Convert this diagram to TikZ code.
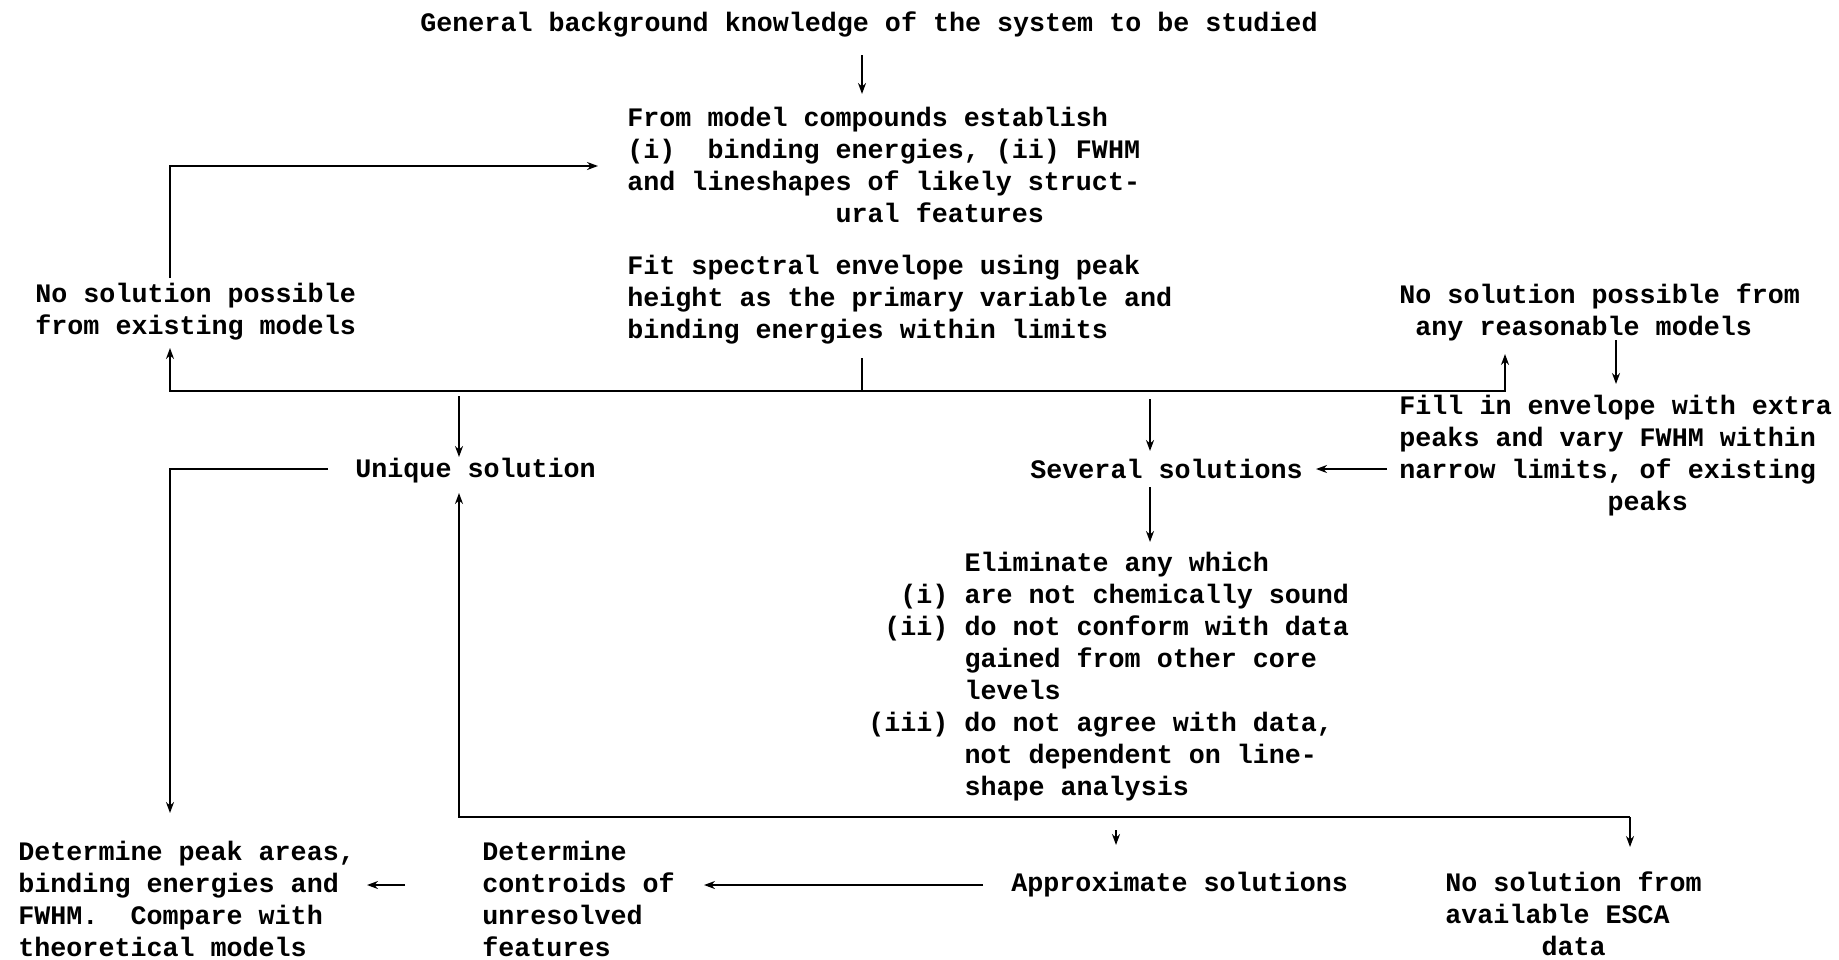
\documentclass[tikz,border=0pt]{standalone}
\usepackage{fontspec}
\setmonofont{Liberation Mono}
\usetikzlibrary{arrows.meta}
\newcommand{\blanks}[1]{\hspace*{#1\dimexpr 0.6em\relax}}
\newcommand{\lab}[1]{\makebox[5\dimexpr 0.6em\relax][r]{#1}\blanks{1}}
\begin{document}
\begin{tikzpicture}[x=0.5pt,y=-0.5pt,
  lbl/.style={font=\ttfamily\bfseries\fontsize{13.35}{16}\selectfont\frenchspacing, align=left, anchor=west, inner sep=0pt},
  arr/.style={line width=1.1pt, -{Stealth[length=5.5pt,width=4pt]}},
  ln/.style={line width=1.1pt}]
\useasboundingbox (0,0) rectangle (1839,959);

% nodes
\node[lbl] (title) at (420,24) {General background knowledge of the system to be studied};
\node[lbl] (model) at (627,165) {From model compounds establish\\(i)\blanks{2}binding energies, (ii) FWHM\\and lineshapes of likely struct-\\\blanks{13}ural features};
\node[lbl] (fit) at (627,300) {Fit spectral envelope using peak\\height as the primary variable and\\binding energies within limits};
\node[lbl] (noexist) at (35,312) {No solution possible\\from existing models};
\node[lbl] (noreason) at (1399,312) {No solution possible from\\\blanks{1}any reasonable models};
\node[lbl] (fill) at (1399,456) {Fill in envelope with extra\\peaks and vary FWHM within\\narrow limits, of existing\\\blanks{13}peaks};
\node[lbl] (several) at (1030,469) {Several solutions};
\node[lbl] (unique) at (355,471) {Unique solution};
\node[lbl] (elim) at (868,677) {\blanks{6}Eliminate any which\\\lab{(i)}are not chemically sound\\\lab{(ii)}do not conform with data\\\blanks{6}gained from other core\\\blanks{6}levels\\\lab{(iii)}do not agree with data,\\\blanks{6}not dependent on line-\\\blanks{6}shape analysis};
\node[lbl] (areas) at (18,899) {Determine peak areas,\\binding energies and\\FWHM.\blanks{2}Compare with\\theoretical models};
\node[lbl] (centroids) at (482,899) {Determine\\controids of\\unresolved\\features};
\node[lbl] (approx) at (1011,885) {Approximate solutions};
\node[lbl] (noesca) at (1445,914) {No solution from\\available ESCA\\\blanks{6}data};

% junction coordinates
\coordinate (t1) at (862,55);
\coordinate (t2) at (862,94);
\coordinate (m1) at (170,278);
\coordinate (m2) at (598,166);
\coordinate (f1) at (862,358);
\coordinate (f2) at (862,391);
\coordinate (ne) at (170,348);
\coordinate (nr) at (1505,354);
\coordinate (u1) at (459,396);
\coordinate (u2) at (459,457);
\coordinate (s1) at (1150,399);
\coordinate (s2) at (1150,451);
\coordinate (r1) at (1616,340);
\coordinate (r2) at (1616,384);
\coordinate (fl1) at (1387,469);
\coordinate (fl2) at (1316,469);
\coordinate (e1) at (1150,487);
\coordinate (e2) at (1150,542);
\coordinate (uq1) at (328,469);
\coordinate (uq2) at (170,813);
\coordinate (b1) at (1630,817);
\coordinate (bu) at (459,493);
\coordinate (be) at (1630,847);
\coordinate (ba1) at (1116,830);
\coordinate (ba2) at (1116,845);
\coordinate (ap1) at (983,885);
\coordinate (ap2) at (704,885);
\coordinate (c1) at (405,885);
\coordinate (c2) at (367,885);

% connectors
\draw[arr] (t1) -- (t2);
\draw[arr] (m1) |- (m2);
\draw[ln] (f1) -- (f2);
\draw[arr] (f2) -| (ne);
\draw[arr] (f2) -| (nr);
\draw[arr] (u1) -- (u2);
\draw[arr] (s1) -- (s2);
\draw[arr] (r1) -- (r2);
\draw[arr] (fl1) -- (fl2);
\draw[arr] (e1) -- (e2);
\draw[arr] (uq1) -| (uq2);
\draw[arr] (b1) -| (bu);
\draw[arr] (b1) -- (be);
\draw[arr] (ba1) -- (ba2);
\draw[arr] (ap1) -- (ap2);
\draw[arr] (c1) -- (c2);
\end{tikzpicture}
\end{document}
